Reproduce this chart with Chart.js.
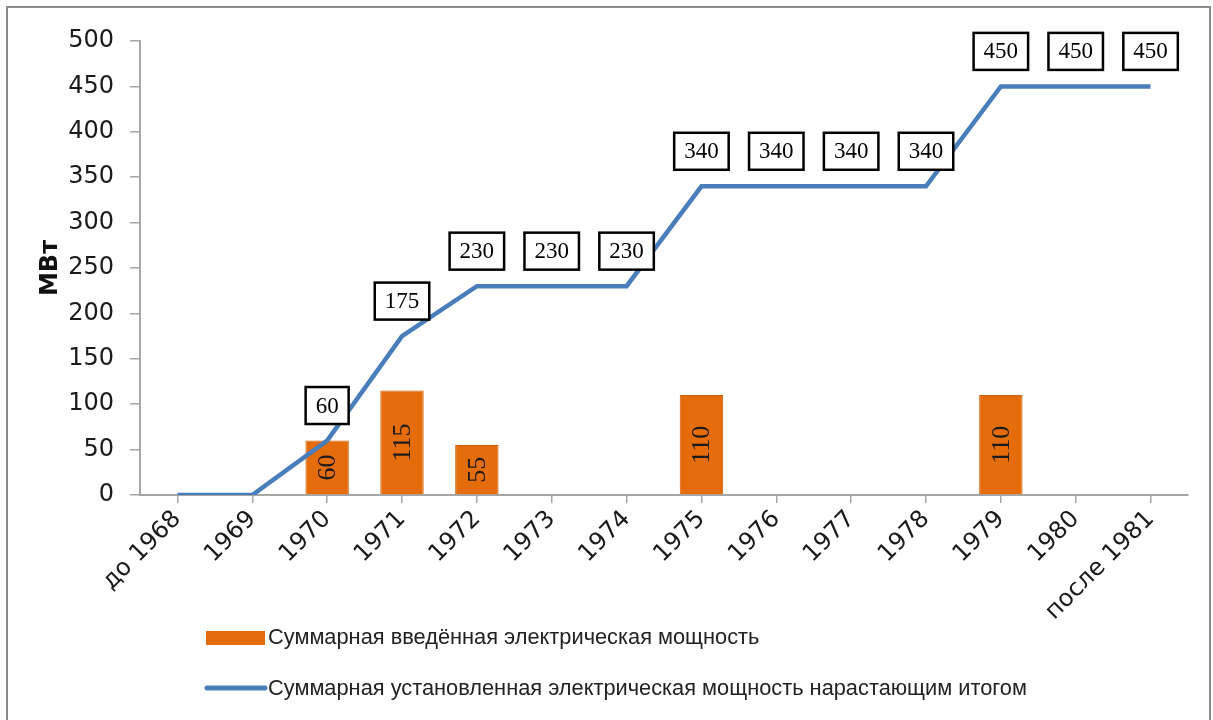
<!DOCTYPE html>
<html>
<head>
<meta charset="utf-8">
<script src="https://cdn.jsdelivr.net/npm/chart.js@4.4.1/dist/chart.umd.min.js"></script>
<style>
html,body{margin:0;padding:0;background:#fff;}
#wrap{position:relative;width:1213px;height:720px;}
</style>
</head>
<body>
<div id="wrap"><canvas id="c" width="1213" height="720"></canvas></div>
<script>
const categories = ['до 1968','1969','1970','1971','1972','1973','1974','1975','1976','1977','1978','1979','1980','после 1981'];
const addedPower = [null,null,60,115,55,null,null,110,null,null,null,110,null,null];
const cumulativePower = [0,0,60,175,230,230,230,340,340,340,340,450,450,450];
const yTicks = [0,50,100,150,200,250,300,350,400,450,500];
const seriesNames = ['Суммарная введённая электрическая мощность','Суммарная установленная электрическая мощность нарастающим итогом'];

const ORANGE = '#E46C0A';
const BLUE = '#4A7EBB';
const AXIS = '#A6A6A6';

const framePlugin = {
  id: 'frame',
  beforeDraw(chart){
    const ctx = chart.ctx;
    ctx.save();
    ctx.fillStyle = '#fff';
    ctx.fillRect(0,0,chart.width,chart.height);
    ctx.strokeStyle = '#8C8C8C';
    ctx.lineWidth = 2;
    ctx.strokeRect(7,7,1203,730);
    ctx.restore();
  }
};

const labelPlugin = {
  id: 'valueLabels',
  afterDatasetsDraw(chart){
    const ctx = chart.ctx;
    ctx.save();
    // bar labels (rotated)
    const barMeta = chart.getDatasetMeta(0);
    ctx.font = '26px "Liberation Serif", serif';
    ctx.fillStyle = '#1a1a1a';
    ctx.textAlign = 'center';
    ctx.textBaseline = 'middle';
    barMeta.data.forEach((el,i)=>{
      const v = chart.data.datasets[0].data[i];
      if (v == null) return;
      const cy = (el.y + el.base)/2;
      ctx.save();
      ctx.translate(el.x, cy);
      ctx.rotate(-Math.PI/2);
      ctx.fillText(String(v),0,1);
      ctx.restore();
    });
    // line labels (boxed)
    const lineMeta = chart.getDatasetMeta(1);
    ctx.font = '23px "Liberation Serif", serif';
    lineMeta.data.forEach((el,i)=>{
      const v = chart.data.datasets[1].data[i];
      if (!v) return;
      const t = String(v);
      const w = ctx.measureText(t).width + 20;
      const h = 37;
      const cx = el.x, cy = el.y - 35;
      ctx.fillStyle = '#fff';
      ctx.fillRect(cx-w/2, cy-h/2, w, h);
      ctx.strokeStyle = '#000';
      ctx.lineWidth = 2.5;
      ctx.strokeRect(cx-w/2, cy-h/2, w, h);
      ctx.fillStyle = '#000';
      ctx.fillText(t, cx, cy+1);
    });
    ctx.restore();
  }
};

const legendPlugin = {
  id: 'customLegend',
  afterDraw(chart){
    const ctx = chart.ctx;
    ctx.save();
    ctx.font = '21.8px "Liberation Sans", sans-serif';
    ctx.textBaseline = 'middle';
    ctx.textAlign = 'left';
    ctx.fillStyle = ORANGE;
    ctx.fillRect(206, 631, 59, 14);
    ctx.fillStyle = '#222';
    ctx.fillText(chart.data.datasets[0].label, 268, 638);
    ctx.strokeStyle = BLUE;
    ctx.lineWidth = 5;
    ctx.lineCap = 'round';
    ctx.beginPath();
    ctx.moveTo(207, 688);
    ctx.lineTo(265, 688);
    ctx.stroke();
    ctx.fillStyle = '#222';
    ctx.fillText(chart.data.datasets[1].label, 268, 689);
    ctx.restore();
  }
};

new Chart(document.getElementById('c'), {
  data: {
    labels: categories,
    datasets: [
      {
        type: 'bar',
        label: seriesNames[0],
        data: addedPower,
        backgroundColor: ORANGE,
        borderColor: '#D0620A',
        borderWidth: 1,
        barPercentage: 0.58,
        categoryPercentage: 1,
        order: 2
      },
      {
        type: 'line',
        label: seriesNames[1],
        data: cumulativePower,
        borderColor: BLUE,
        borderWidth: 4.5,
        pointRadius: 0,
        tension: 0,
        fill: false,
        order: 1
      }
    ]
  },
  options: {
    responsive: false,
    animation: false,
    devicePixelRatio: 1,
    layout: { padding: { left: 20, top: 41, right: 25, bottom: 0 } },
    plugins: {
      legend: { display: false },
      tooltip: { enabled: false }
    },
    scales: {
      x: {
        type: 'category',
        offset: true,
        grid: { drawOnChartArea: false, offset: false, color: AXIS, tickLength: 8, lineWidth: 1.5 },
        border: { color: AXIS, width: 2 },
        ticks: {
          autoSkip: false,
          minRotation: 45,
          maxRotation: 45,
          color: '#1a1a1a',
          padding: 2,
          font: { family: '"DejaVu Sans", sans-serif', size: 24 }
        },
        afterFit(scale){ scale.height = 225; }
      },
      y: {
        min: 0,
        max: 500,
        afterBuildTicks(scale){ scale.ticks = yTicks.map(v=>({value:v})); },
        grid: { drawOnChartArea: false, color: AXIS, tickLength: 10, lineWidth: 1.5 },
        border: { color: AXIS, width: 2 },
        ticks: {
          color: '#1a1a1a',
          padding: 16,
          font: { family: '"DejaVu Sans", sans-serif', size: 24 }
        },
        title: {
          display: true,
          text: 'МВт',
          color: '#111',
          padding: { top: 16, bottom: 0 },
          font: { family: '"DejaVu Sans", sans-serif', size: 24, weight: 'bold' }
        },
        afterFit(scale){ scale.width = 120; }
      }
    }
  },
  plugins: [framePlugin, labelPlugin, legendPlugin]
});
</script>
</body>
</html>
